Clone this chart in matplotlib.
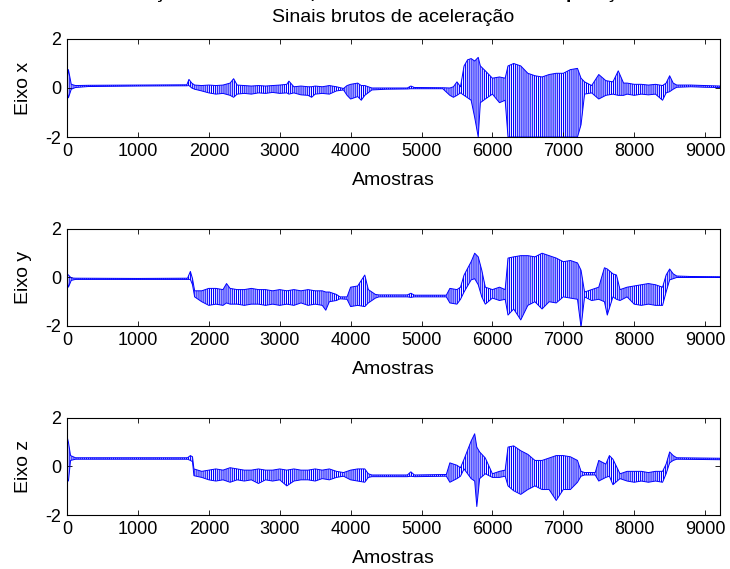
import numpy as np
import matplotlib
matplotlib.use("Agg")
import matplotlib.pyplot as plt

plt.rcParams["font.family"] = ["Liberation Sans", "DejaVu Sans"]
plt.rcParams["axes.unicode_minus"] = False
plt.rcParams["hatch.linewidth"] = 0.8
plt.rcParams["hatch.color"] = "blue"

# envelopes (min / max) of the raw signals
x_samples = [0, 20, 60, 120, 300, 1000, 1690, 1720, 1760, 1800, 1900, 2000, 2100, 2200, 2300, 2350,
             2400, 2500, 2600, 2700, 2800, 2900, 3000, 3100, 3130, 3200, 3300, 3400, 3450, 3500, 3600,
             3700, 3800, 3900, 3950, 4000, 4100, 4150, 4200, 4300, 4500, 4800, 4850, 4900, 5300, 5400,
             5450, 5500, 5550, 5600, 5650, 5700, 5750, 5800, 5830, 5900, 6000, 6100, 6180, 6220, 6300,
             6400, 6500, 6600, 6700, 6800, 6900, 7000, 7100, 7200, 7250, 7300, 7400, 7500, 7600, 7700,
             7775, 7850, 7900, 8000, 8100, 8200, 8300, 8400, 8450, 8500, 8550, 8600, 8800, 9000, 9210]
x_lo = [-0.10, -0.40, -0.05, 0.02, 0.06, 0.08, 0.09, 0.10, 0.00, -0.05, -0.12, -0.20, -0.25, -0.22, -0.30, -0.38,
        -0.25, -0.22, -0.25, -0.20, -0.22, -0.18, -0.22, -0.20, -0.25, -0.20, -0.28, -0.30, -0.38, -0.25, -0.22,
        -0.25, -0.12, -0.08, -0.30, -0.45, -0.35, -0.50, -0.30, -0.08, -0.05, -0.04, -0.03, -0.03, -0.03, -0.30,
        -0.38, -0.30, -0.20, -0.30, -0.40, -0.50, -1.20, -2.00, -0.60, -0.45, -0.25, -0.60, -0.50, -2.00, -2.00,
        -2.00, -2.00, -2.00, -2.00, -2.00, -2.00, -2.00, -2.00, -2.00, -1.50, -0.25, -0.20, -0.45, -0.30, -0.25,
        -0.30, -0.30, -0.25, -0.30, -0.25, -0.28, -0.25, -0.50, -0.20, -0.15, -0.05, 0.03, 0.05, 0.03, 0.02]
x_hi = [0.30, 0.75, 0.15, 0.10, 0.11, 0.12, 0.13, 0.35, 0.20, 0.12, 0.10, 0.12, 0.10, 0.12, 0.20, 0.38,
        0.12, 0.10, 0.08, 0.10, 0.08, 0.10, 0.12, 0.15, 0.28, 0.05, 0.08, 0.05, 0.05, 0.08, 0.05,
        0.10, 0.05, -0.02, 0.10, 0.15, 0.20, 0.10, 0.10, 0.00, 0.00, 0.00, 0.08, 0.02, 0.01, 0.00,
        0.05, 0.25, 0.05, 0.90, 1.15, 1.20, 1.10, 1.25, 0.90, 0.70, 0.40, 0.45, 0.40, 0.90, 1.00,
        0.90, 0.60, 0.50, 0.45, 0.55, 0.60, 0.60, 0.75, 0.80, 0.40, 0.25, 0.10, 0.55, 0.30, 0.25,
        0.70, 0.20, 0.20, 0.15, 0.15, 0.12, 0.15, 0.10, 0.20, 0.50, 0.20, 0.12, 0.12, 0.10, 0.08]

y_samples = [0, 20, 60, 120, 1000, 1700, 1740, 1770, 1800, 1900, 2000, 2100, 2200, 2250, 2300, 2400,
             2500, 2600, 2700, 2800, 2900, 3000, 3100, 3200, 3300, 3400, 3500, 3600, 3650, 3700, 3800,
             3850, 3950, 4000, 4100, 4200, 4250, 4350, 4400, 4800, 4850, 4900, 5350, 5400, 5500, 5550,
             5600, 5700, 5750, 5800, 5850, 5900, 6000, 6100, 6180, 6220, 6300, 6400, 6500, 6600, 6700,
             6800, 6900, 7000, 7100, 7200, 7250, 7300, 7400, 7500, 7580, 7620, 7700, 7750, 7800, 7900,
             8000, 8100, 8200, 8300, 8400, 8450, 8500, 8550, 8600, 8800, 9210]
y_lo = [-0.10, -0.40, -0.12, -0.08, -0.08, -0.08, -0.08, -0.30, -0.80, -1.00, -1.15, -1.10, -1.15, -1.05, -1.10, -1.10,
        -1.15, -1.10, -1.10, -1.15, -1.10, -1.15, -1.10, -1.15, -1.05, -1.15, -1.10, -1.15, -1.35, -1.00, -0.95,
        -0.88, -0.90, -1.20, -1.15, -1.20, -1.05, -0.85, -0.80, -0.80, -0.82, -0.80, -0.80, -1.05, -1.10, -0.90,
        -0.60, -0.10, -0.05, -0.30, -0.80, -1.10, -0.85, -0.95, -0.90, -1.55, -1.30, -1.75, -1.15, -1.00, -1.30,
        -1.00, -1.05, -0.80, -0.85, -0.90, -2.05, -0.80, -0.95, -0.90, -1.00, -1.55, -0.80, -0.90, -0.95, -0.80,
        -1.10, -1.15, -1.10, -1.15, -1.15, -0.60, -0.10, -0.05, 0.00, 0.00, 0.00]
y_hi = [0.15, 0.10, -0.02, -0.03, -0.04, -0.03, 0.25, -0.05, -0.55, -0.55, -0.45, -0.45, -0.50, -0.25, -0.45, -0.50,
        -0.50, -0.45, -0.50, -0.50, -0.55, -0.50, -0.55, -0.50, -0.55, -0.50, -0.55, -0.55, -0.60, -0.60, -0.70,
        -0.80, -0.80, -0.40, -0.35, 0.10, -0.50, -0.70, -0.72, -0.72, -0.65, -0.73, -0.73, -0.45, -0.50, -0.40,
        0.10, 0.65, 1.00, 0.85, 0.30, -0.40, -0.50, -0.40, -0.50, 0.80, 0.85, 0.90, 0.90, 0.85, 1.00,
        0.90, 0.80, 0.65, 0.70, 0.60, 0.30, -0.60, -0.50, -0.40, 0.40, 0.35, 0.15, 0.10, -0.50, -0.40,
        -0.35, -0.30, -0.25, -0.30, -0.40, 0.10, 0.35, 0.15, 0.06, 0.04, 0.03]

z_samples = [0, 20, 50, 120, 1000, 1700, 1740, 1770, 1790, 1900, 2000, 2100, 2200, 2300, 2400, 2500,
             2600, 2700, 2800, 2900, 3000, 3100, 3200, 3300, 3400, 3500, 3600, 3700, 3800, 3900, 4000,
             4100, 4200, 4250, 4300, 4800, 4850, 4900, 5350, 5400, 5500, 5550, 5600, 5700, 5750, 5780,
             5820, 5900, 6000, 6100, 6180, 6220, 6300, 6400, 6500, 6600, 6700, 6800, 6900, 7000, 7100,
             7200, 7250, 7300, 7450, 7500, 7600, 7650, 7700, 7800, 7900, 8000, 8100, 8200, 8300, 8400,
             8450, 8500, 8550, 8600, 9210]
z_lo = [-0.50, -0.60, 0.25, 0.30, 0.30, 0.30, 0.25, 0.20, -0.38, -0.45, -0.55, -0.60, -0.55, -0.65, -0.55, -0.60,
        -0.55, -0.70, -0.55, -0.60, -0.55, -0.80, -0.60, -0.55, -0.55, -0.60, -0.50, -0.55, -0.45, -0.40, -0.55,
        -0.60, -0.65, -0.45, -0.42, -0.42, -0.40, -0.42, -0.40, -0.65, -0.50, -0.40, -0.10, -0.50, -0.60, -1.65,
        -0.50, -0.30, -0.45, -0.45, -0.40, -0.80, -1.00, -1.15, -0.95, -0.80, -0.95, -0.95, -1.40, -0.95, -0.95,
        -0.65, -0.40, -0.35, -0.35, -0.60, -0.45, -0.40, -0.75, -0.50, -0.60, -0.65, -0.60, -0.65, -0.60, -0.65,
        -0.30, 0.15, 0.25, 0.30, 0.28]
z_hi = [1.25, 1.00, 0.45, 0.36, 0.36, 0.36, 0.45, 0.40, -0.10, -0.20, -0.15, -0.10, -0.15, -0.05, -0.10, -0.15,
        -0.15, -0.10, -0.15, -0.15, -0.10, -0.15, -0.10, -0.15, -0.15, -0.10, -0.15, -0.10, -0.20, -0.25, -0.15,
        -0.10, -0.10, -0.30, -0.35, -0.35, -0.22, -0.35, -0.33, 0.15, 0.05, -0.05, 0.30, 1.05, 1.35, 0.80,
        0.60, 0.35, -0.30, -0.20, -0.15, 0.80, 0.85, 0.65, 0.50, 0.25, 0.25, 0.35, 0.45, 0.45, 0.40,
        0.25, -0.20, -0.25, -0.25, 0.25, 0.10, 0.45, 0.30, -0.30, -0.20, -0.20, -0.20, -0.25, -0.20, -0.20,
        0.10, 0.60, 0.45, 0.36, 0.34]

n_samples = 9210
y_labels = ["Eixo x", "Eixo y", "Eixo z"]
x_ticks = [0, 1000, 2000, 3000, 4000, 5000, 6000, 7000, 8000, 9000]
y_ticks = [-2, 0, 2]

fig = plt.figure(figsize=(7.30, 5.69), dpi=100)

# axes boxes in figure fractions (left, bottom, width, height)
boxes = [(0.0918, 0.7592, 0.8945, 0.1723),
         (0.0918, 0.4271, 0.8945, 0.1705),
         (0.0918, 0.0949, 0.8945, 0.1705)]
signals = [(x_samples, x_lo, x_hi), (y_samples, y_lo, y_hi), (z_samples, z_lo, z_hi)]

for box, (k, lo, hi), lab in zip(boxes, signals, y_labels):
    ax = fig.add_axes(box)
    k = np.array(k)
    lo = np.array(lo)
    hi = np.array(hi)
    ax.fill_between(k, lo, hi, facecolor="none", edgecolor="blue", hatch="||||||||", linewidth=0)
    ax.plot(k, lo, color="blue", lw=0.7)
    ax.plot(k, hi, color="blue", lw=0.7)
    ax.set_xlim(0, n_samples)
    ax.set_ylim(-2, 2)
    ax.set_xticks(x_ticks)
    ax.set_yticks(y_ticks)
    ax.tick_params(direction="in", top=True, right=True, length=3.5, width=0.6, labelsize=13, pad=4)
    for s in ax.spines.values():
        s.set_linewidth(0.8)
    ax.set_xlabel("Amostras", fontsize=14, labelpad=9)
    ax.set_ylabel(lab, fontsize=14, labelpad=10)

# first title line is cut by the top edge in the original, only descenders show
fig.text(0.539, 1 + 2 / 569, "Aceleração no tornozelo, sentado e caminhando na posição lateral",
         ha="center", va="baseline", fontsize=14, fontweight="bold")
fig.text(0.539, 1 - 17 / 569, "Sinais brutos de aceleração", ha="center", va="center", fontsize=14)

fig.savefig("out.png", dpi=100)
